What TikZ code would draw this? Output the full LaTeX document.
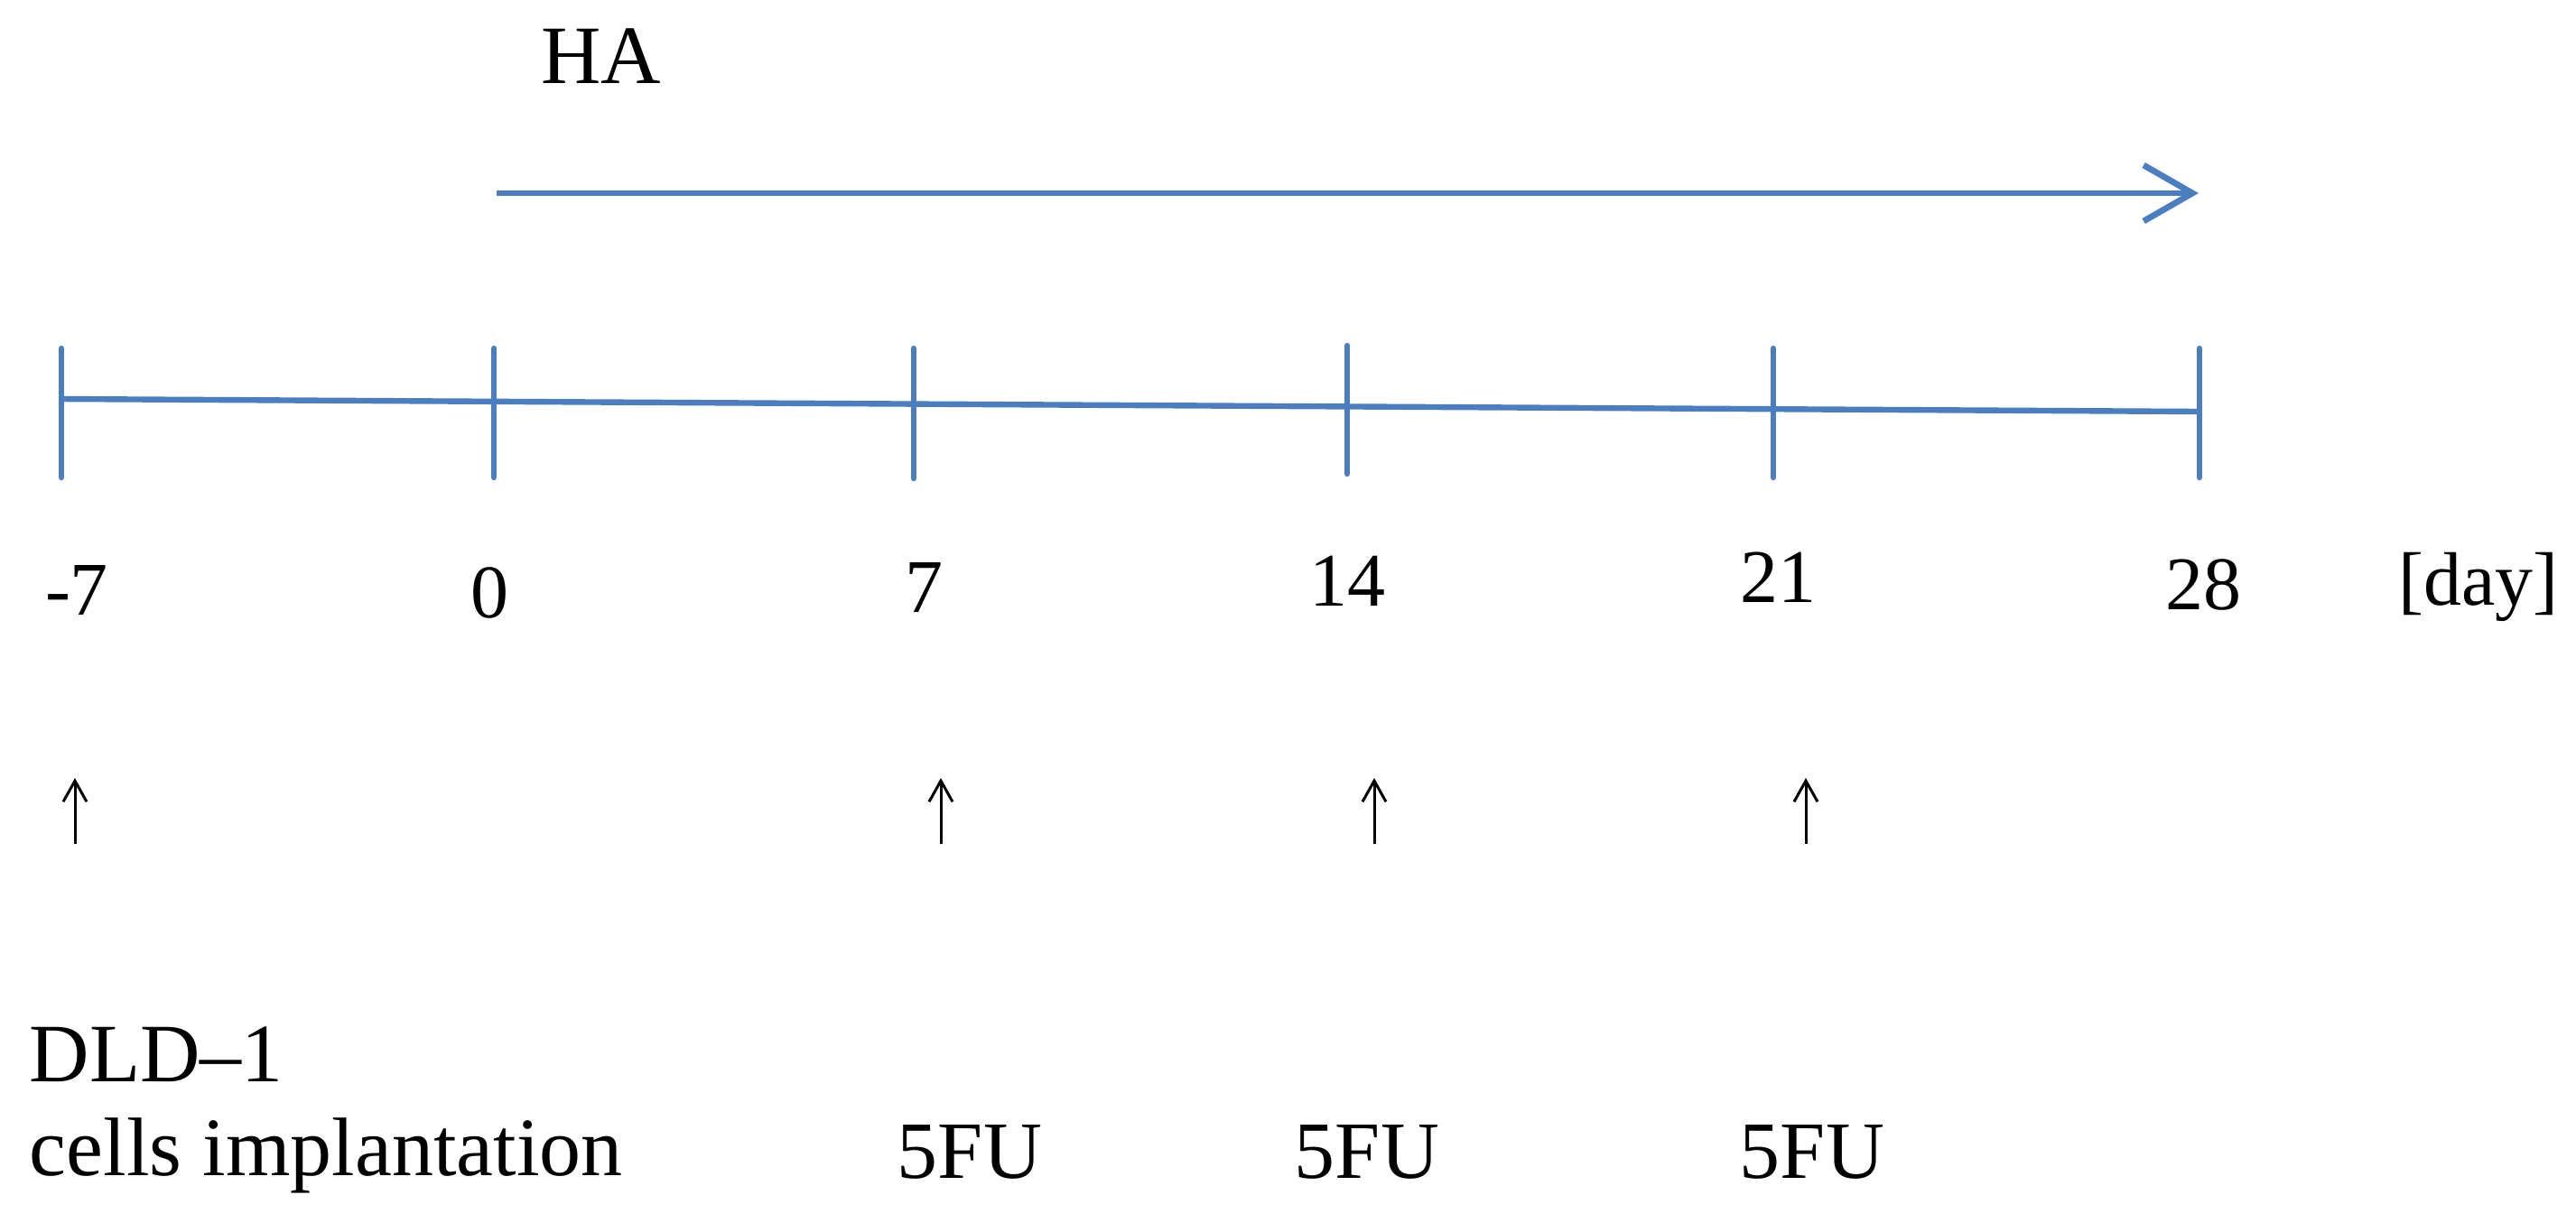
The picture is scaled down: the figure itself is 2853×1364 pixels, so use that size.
\documentclass[tikz,border=0pt]{standalone}
\usepackage{fontspec}
\setmainfont{Liberation Serif}
\usetikzlibrary{arrows.meta}
\definecolor{lineblue}{RGB}{74,126,193}
\tikzset{
  bluel/.style={draw=lineblue, line width=1.6pt, line cap=round},
  haarrow/.style={draw=lineblue, line width=1.7pt, -{Straight Barb[length=13.5pt,width=15.5pt,line width=1.7pt]}},
  uparrow/.style={draw=black, line width=0.75pt, -{Straight Barb[length=5.8pt,width=6.5pt,line width=0.75pt]}},
  numlbl/.style={anchor=base, inner sep=0pt, font=\fontsize{21pt}{25pt}\selectfont},
  txtlbl/.style={anchor=base west, inner sep=0pt, font=\fontsize{23pt}{27pt}\selectfont},
  fulbl/.style={anchor=base, inner sep=0pt, font=\fontsize{22.5pt}{27pt}\selectfont}
}
\begin{document}
\begin{tikzpicture}[x=0.25pt, y=-0.25pt]
\useasboundingbox (0,0) rectangle (2853,1364);
% HA arrow
\node[anchor=base, inner sep=0pt, font=\fontsize{23pt}{27pt}\selectfont] (ha) at (666,92) {HA};
\coordinate (has) at (550,214);
\coordinate (hae) at (2435,214);
\draw[haarrow] (has) -- (hae);
% axis
\coordinate (axl) at (68,442);
\coordinate (axr) at (2436,456);
\draw[bluel] (axl) -- (axr);
% ticks
\foreach \n/\x/\t/\b in {m7/68/386/529, d0/547/386/529, d7/1012/386/530, d14/1492/383/525, d21/1964/386/529, d28/2436/386/529}{
  \coordinate (t\n a) at (\x,\t);
  \coordinate (t\n b) at (\x,\b);
  \draw[bluel] (t\n a) -- (t\n b);
}
% tick labels
\node[numlbl] (lm7) at (85,681) {-7};
\node[numlbl] (l0) at (542,684) {0};
\node[numlbl] (l7) at (1023,678) {7};
\node[numlbl] (l14) at (1492,671) {14};
\node[numlbl] (l21) at (1969,667) {21};
\node[numlbl] (l28) at (2440,675) {28};
\node[numlbl] (lday) at (2745,670) {[day]};
% up arrows
\foreach \n/\x in {a1/83, a2/1042, a3/1522, a4/2000}{
  \coordinate (\n s) at (\x,935);
  \coordinate (\n e) at (\x,862);
  \draw[uparrow] (\n s) -- (\n e);
}
% bottom texts
\node[txtlbl] (dld) at (32,1198) {DLD–1};
\node[txtlbl] (cells) at (32,1302) {cells implantation};
\node[fulbl] (fu1) at (1074,1305) {5FU};
\node[fulbl] (fu2) at (1514,1305) {5FU};
\node[fulbl] (fu3) at (2007,1305) {5FU};
\end{tikzpicture}
\end{document}
